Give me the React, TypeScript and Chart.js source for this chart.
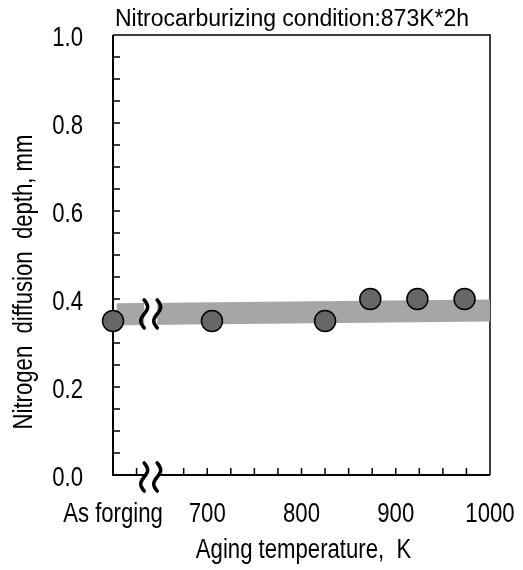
import React, { useEffect, useRef } from "react";
import { Chart, registerables } from "chart.js";

Chart.register(...registerables);

// ---- data ----
const tempX = [600, 705, 825, 873, 923, 973]; // 600 = "As forging"
const depthY = [0.35, 0.35, 0.35, 0.4, 0.4, 0.4];
const bandX = [604, 1000];
const bandY = [0.3655, 0.374];
const xTickValues = [600, 700, 800, 900, 1000];
const xTickLabels = ["As forging", "700", "800", "900", "1000"];
const yTickValues = [0, 0.2, 0.4, 0.6, 0.8, 1.0];
const yTickLabels = ["0.0", "0.2", "0.4", "0.6", "0.8", "1.0"];
const breakX = 640;
const breakYs = [0.366, 0];

const TITLE = "Nitrocarburizing condition:873K*2h";
const X_TITLE = "Aging temperature,  K";
const Y_TITLE = "Nitrogen  diffusion  depth, mm";

const SANS = '"Liberation Sans", Arial, sans-serif';
const NARROW_SCALE = 0.82;

function narrowText(ctx: any, text: string, x: number, y: number, align: CanvasTextAlign, rot = 0) {
  ctx.save();
  ctx.translate(x, y);
  if (rot) ctx.rotate(rot);
  ctx.scale(NARROW_SCALE, 1);
  ctx.textAlign = align;
  ctx.fillText(text, 0, 0);
  ctx.restore();
}

const decorPlugin = {
  id: "decor",
  beforeDatasetsDraw(chart: any) {
    const { ctx, chartArea: a, scales } = chart;
    ctx.save();
    ctx.strokeStyle = "#000";
    ctx.lineWidth = 1.5;
    ctx.beginPath();
    ctx.moveTo(a.left, a.top);
    ctx.lineTo(a.right, a.top);
    ctx.lineTo(a.right, a.bottom);
    ctx.stroke();
    ctx.lineWidth = 2;
    ctx.beginPath();
    ctx.moveTo(a.left, a.top);
    ctx.lineTo(a.left, a.bottom);
    ctx.lineTo(a.right, a.bottom);
    ctx.stroke();
    ctx.lineWidth = 1.5;
    ctx.beginPath();
    scales.x.ticks.forEach((t: any) => {
      const px = scales.x.getPixelForValue(t.value);
      if (px <= a.left + 1 || px >= a.right - 1) return;
      ctx.moveTo(px, a.bottom);
      ctx.lineTo(px, a.bottom - 7);
    });
    scales.y.ticks.forEach((t: any) => {
      const py = scales.y.getPixelForValue(t.value);
      if (py <= a.top + 1 || py >= a.bottom - 1) return;
      ctx.moveTo(a.left, py);
      ctx.lineTo(a.left + 7, py);
    });
    ctx.stroke();
    ctx.restore();
  },
  afterDatasetsDraw(chart: any) {
    const { ctx, scales } = chart;
    ctx.save();
    const px = scales.x.getPixelForValue(breakX);
    breakYs.forEach((v, i) => {
      const py = scales.y.getPixelForValue(v) + (i === 1 ? 2 : 0);
      const gapH = i === 0 ? 26 : 6;
      ctx.fillStyle = "#fff";
      ctx.fillRect(px - 6.5, py - gapH / 2, 13, gapH);
      ctx.strokeStyle = "#000";
      ctx.lineWidth = 3.6;
      ctx.lineCap = "round";
      [-6.5, 6.5].forEach((dx) => {
        const cx = px + dx;
        const h = 28;
        ctx.beginPath();
        for (let k = 0; k <= 40; k++) {
          const t = k / 40;
          const x = cx + 3.4 * Math.sin(2 * Math.PI * t);
          const y = py - h / 2 + h * t;
          if (k === 0) ctx.moveTo(x, y);
          else ctx.lineTo(x, y);
        }
        ctx.stroke();
      });
    });
    ctx.restore();
  },
  afterDraw(chart: any) {
    const { ctx, chartArea: a, scales } = chart;
    ctx.save();
    ctx.fillStyle = "#000";
    ctx.textBaseline = "alphabetic";
    ctx.textAlign = "center";
    ctx.font = `23px ${SANS}`;
    ctx.fillText(TITLE, 292, 26);
    ctx.font = `27px ${SANS}`;
    yTickValues.forEach((v, i) => {
      const py = scales.y.getPixelForValue(v);
      narrowText(ctx, yTickLabels[i], a.left - 30, py + 10.5, "right");
    });
    xTickValues.forEach((v, i) => {
      const px = scales.x.getPixelForValue(v);
      narrowText(ctx, xTickLabels[i], px, 522, "center");
    });
    narrowText(ctx, X_TITLE, (a.left + a.right) / 2 + 2, 558, "center");
    ctx.textBaseline = "middle";
    narrowText(ctx, Y_TITLE, 25, 282, "center", -Math.PI / 2);
    ctx.restore();
  },
};

export default function App() {
  const ref = useRef<HTMLCanvasElement | null>(null);
  useEffect(() => {
    if (!ref.current) return;
    const chart = new Chart(ref.current, {
      type: "scatter",
      data: {
        datasets: [
          {
            type: "line",
            data: bandX.map((x, i) => ({ x, y: bandY[i] })),
            borderColor: "#a6a6a6",
            borderWidth: 22,
            borderCapStyle: "butt",
            pointRadius: 0,
            fill: false,
            order: 2,
          } as any,
          {
            type: "scatter",
            data: tempX.map((x, i) => ({ x, y: depthY[i] })),
            backgroundColor: "#666666",
            borderColor: "#000000",
            borderWidth: 1.5,
            pointRadius: 10.5,
            clip: false,
            order: 1,
          } as any,
        ],
      },
      options: {
        animation: false,
        responsive: false,
        devicePixelRatio: 1,
        layout: { padding: { top: 35, right: 33, bottom: 0, left: 0 } },
        plugins: {
          legend: { display: false },
          tooltip: { enabled: false },
          title: { display: false },
        },
        scales: {
          x: {
            type: "linear",
            min: 600,
            max: 1000,
            grid: { display: false, drawTicks: false },
            border: { display: false },
            afterFit: (s: any) => {
              s.height = 95;
            },
            ticks: { stepSize: 25, display: false },
          },
          y: {
            type: "linear",
            min: 0,
            max: 1,
            grid: { display: false, drawTicks: false },
            border: { display: false },
            afterFit: (s: any) => {
              s.width = 113;
            },
            ticks: { stepSize: 0.05, display: false },
          },
        },
      },
      plugins: [decorPlugin],
    });
    return () => chart.destroy();
  }, []);
  return (
    <div style={{ position: "absolute", left: 0, top: 0, width: 523, height: 570, background: "#fff" }}>
      <canvas ref={ref} width={523} height={570} />
    </div>
  );
}
